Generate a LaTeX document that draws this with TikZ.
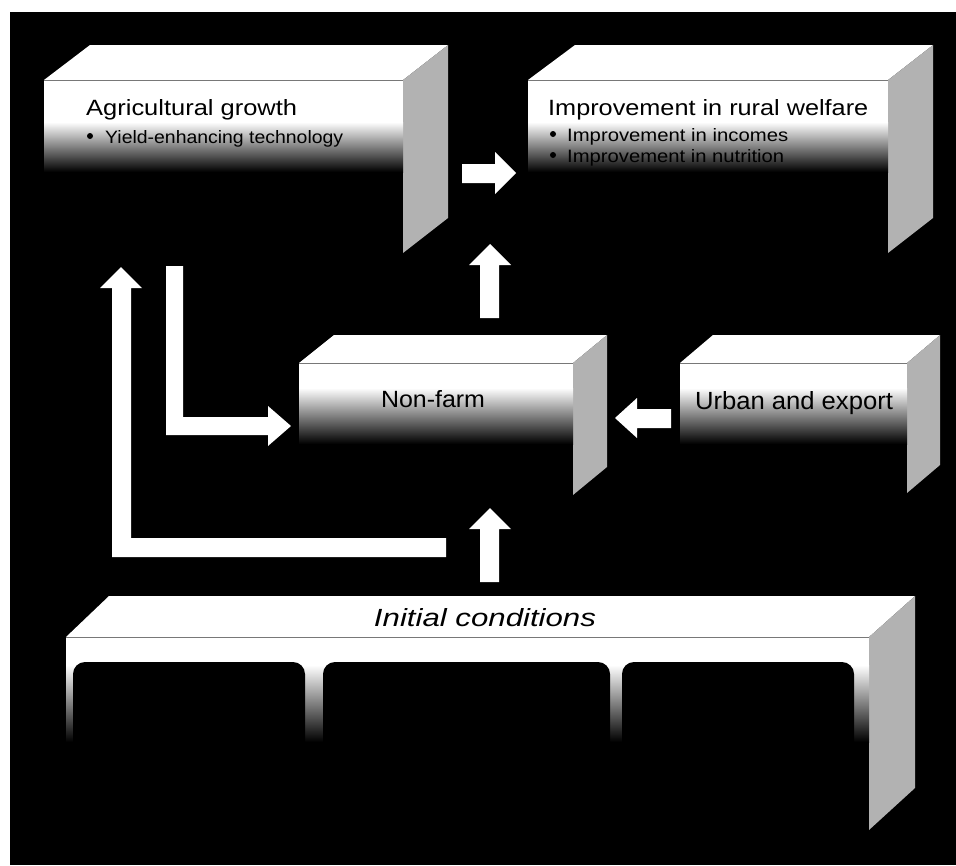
\documentclass[tikz,border=0pt]{standalone}
\usepackage{graphicx}
\usepackage{fontspec}
\setmainfont{Liberation Sans}
\definecolor{sidegray}{RGB}{178,178,178}
\definecolor{edgegray}{RGB}{120,120,120}
\tikzset{
  topface/.style={fill=white},
  sideface/.style={fill=sidegray},
  frontedge/.style={draw=edgegray, line width=0.7pt},
  fade/.style={top color=white, bottom color=black},
  blockarrow/.style={fill=white},
  opening/.style={fill=black, rounded corners=12pt},
  lbl/.style={inner sep=0pt, anchor=base west, text=black},
  clbl/.style={inner sep=0pt, anchor=base, text=black},
  bullet/.style={fill=black}
}
\begin{document}
\begin{tikzpicture}[x=1pt,y=-1pt]
\useasboundingbox (0,0) rectangle (956,865);
\fill[white] (0,0) rectangle (956,865);
\fill[black] (10,12) rectangle (956,865);

% ---------- Box 1: Agricultural growth
\fill[topface] (44,80) -- (90,45) -- (448,45) -- (403,80) -- cycle;
\fill[sideface] (403,80) -- (448,45) -- (448,218) -- (403,253) -- cycle;
\fill[white] (44,80) rectangle (403,123);
\shade[fade] (44,122) rectangle (403,172);
\draw[frontedge] (44,80) -- (403,80);
\node[lbl] (agtitle) at (86,115) {\resizebox{211pt}{16pt}{Agricultural growth}};
\fill[bullet] (90,136) circle (3);
\node[lbl] (agitem) at (105,143) {\resizebox{238pt}{13pt}{Yield-enhancing technology}};

% ---------- Box 2: Improvement in rural welfare
\fill[topface] (528,80) -- (575,45) -- (933,45) -- (888,80) -- cycle;
\fill[sideface] (888,80) -- (933,45) -- (933,218) -- (888,253) -- cycle;
\fill[white] (528,80) rectangle (888,123);
\shade[fade] (528,122) rectangle (888,172);
\draw[frontedge] (528,80) -- (888,80);
\node[lbl] (rwtitle) at (548,115) {\resizebox{320pt}{16pt}{Improvement in rural welfare}};
\fill[bullet] (553,134) circle (3);
\node[lbl] (rwitem1) at (567,141) {\resizebox{221pt}{13pt}{Improvement in incomes}};
\fill[bullet] (553,155) circle (3);
\node[lbl] (rwitem2) at (567,162) {\resizebox{217pt}{13pt}{Improvement in nutrition}};

% ---------- Box 3: Non-farm
\fill[topface] (299,363) -- (334,335) -- (607,335) -- (573,363) -- cycle;
\fill[sideface] (573,363) -- (607,335) -- (607,467) -- (573,495) -- cycle;
\fill[white] (299,363) rectangle (573,389);
\shade[fade] (299,388) rectangle (573,444);
\draw[frontedge] (299,363) -- (573,363);
\node[clbl] (nonfarm) at (433,407) {\resizebox{104pt}{17pt}{Non-farm}};

% ---------- Box 4: Urban and export
\fill[topface] (680,363) -- (713,335) -- (940,335) -- (907,363) -- cycle;
\fill[sideface] (907,363) -- (940,335) -- (940,465) -- (907,493) -- cycle;
\fill[white] (680,363) rectangle (907,389);
\shade[fade] (680,388) rectangle (907,444);
\draw[frontedge] (680,363) -- (907,363);
\node[clbl] (urban) at (794,409) {\resizebox{198pt}{18pt}{Urban and export}};

% ---------- Box 5: Initial conditions
\fill[topface] (66,637) -- (109,596) -- (915,596) -- (869,637) -- cycle;
\fill[sideface] (869,637) -- (915,596) -- (915,788) -- (869,830) -- cycle;
\fill[white] (66,637) rectangle (869,666);
\shade[fade] (66,665) rectangle (869,742);
\fill[opening] (73,662) rectangle (305,790);
\fill[opening] (323,662) rectangle (610,790);
\fill[opening] (622,662) rectangle (854,790);
\draw[frontedge] (66,637) -- (869,637);
\node[clbl] (initial) at (485,626) {\resizebox{222pt}{18pt}{\itshape Initial conditions}};

% ---------- Arrows
% Agricultural growth -> rural welfare
\fill[blockarrow] (462,164) -- (495,164) -- (495,152) -- (516,173) -- (495,194) -- (495,183) -- (462,183) -- cycle;
% Non-farm -> rural welfare
\fill[blockarrow] (480,318) -- (480,265) -- (469,265) -- (490,244) -- (511,265) -- (499,265) -- (499,318) -- cycle;
% Initial conditions -> Non-farm
\fill[blockarrow] (480,582) -- (480,529) -- (469,529) -- (490,508) -- (511,529) -- (499,529) -- (499,582) -- cycle;
% Urban -> Non-farm
\fill[blockarrow] (671,409) -- (637,409) -- (637,398) -- (615,418) -- (637,438) -- (637,428) -- (671,428) -- cycle;
% Initial conditions -> Agricultural growth (L-shape)
\fill[blockarrow] (446,538) -- (131,538) -- (131,288) -- (142,288) -- (121,267) -- (100,288) -- (112,288) -- (112,557) -- (446,557) -- cycle;
% Agricultural growth -> Non-farm (L-shape)
\fill[blockarrow] (166,266) -- (183,266) -- (183,417) -- (268,417) -- (268,406) -- (291,426) -- (268,446) -- (268,435) -- (166,435) -- cycle;
\end{tikzpicture}
\end{document}
